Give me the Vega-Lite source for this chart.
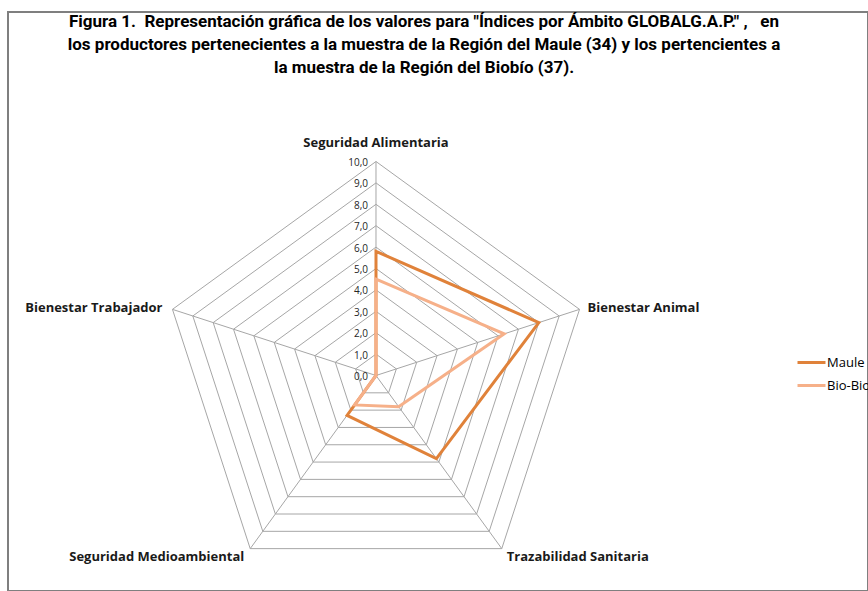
{
  "$schema": "https://vega.github.io/schema/vega-lite/v6.json",
  "width": 860,
  "height": 579,
  "autosize": "none",
  "padding": {"left": 8, "top": 12, "right": 0, "bottom": 0},
  "background": "white",
  "config": {
    "view": {"stroke": "#7f7f7f", "strokeWidth": 2},
    "font": "Open Sans"
  },
  "title": {
    "text": [
      "Figura 1.\u00a0 Representación gráfica de los valores para \"Índices por Ámbito GLOBALG.A.P.\" ,\u00a0\u00a0 en",
      "los productores pertenecientes a la muestra de la Región del Maule (34) y los pertencientes a",
      "la muestra de la Región del Biobío (37)."
    ],
    "anchor": "middle",
    "frame": "group",
    "font": "Roboto",
    "fontSize": 17,
    "fontWeight": "bold",
    "color": "#000000",
    "lineHeight": 23,
    "baseline": "top",
    "offset": 0,
    "dx": -14,
    "dy": 64.5
  },
  "datasets": {
    "scores": [
      {"series": "Maule", "axis": "Seguridad Alimentaria", "value": 5.8},
      {"series": "Maule", "axis": "Bienestar Animal", "value": 8.0},
      {"series": "Maule", "axis": "Trazabilidad Sanitaria", "value": 4.8},
      {"series": "Maule", "axis": "Seguridad Medioambiental", "value": 2.3},
      {"series": "Maule", "axis": "Bienestar Trabajador", "value": 0.0},
      {"series": "Bio-Bio", "axis": "Seguridad Alimentaria", "value": 4.5},
      {"series": "Bio-Bio", "axis": "Bienestar Animal", "value": 6.3},
      {"series": "Bio-Bio", "axis": "Trazabilidad Sanitaria", "value": 1.8},
      {"series": "Bio-Bio", "axis": "Seguridad Medioambiental", "value": 1.7},
      {"series": "Bio-Bio", "axis": "Bienestar Trabajador", "value": 0.0}
    ],
    "axes": [
      {"axis": "Seguridad Alimentaria", "value": 10},
      {"axis": "Bienestar Animal", "value": 10},
      {"axis": "Trazabilidad Sanitaria", "value": 10},
      {"axis": "Seguridad Medioambiental", "value": 10},
      {"axis": "Bienestar Trabajador", "value": 10}
    ],
    "levels": [
      {"level": 0}, {"level": 1}, {"level": 2}, {"level": 3}, {"level": 4}, {"level": 5},
      {"level": 6}, {"level": 7}, {"level": 8}, {"level": 9}, {"level": 10}
    ]
  },
  "encoding": {
    "x": {"field": "x", "type": "quantitative", "scale": {"domain": [-17.196, 22.991], "nice": false, "zero": false}, "axis": null},
    "y": {"field": "y", "type": "quantitative", "scale": {"domain": [-10.07, 16.986], "nice": false, "zero": false}, "axis": null}
  },
  "layer": [
    {
      "data": {"name": "levels"},
      "transform": [
        {"filter": "datum.level >= 1"},
        {"calculate": "['Seguridad Alimentaria','Bienestar Animal','Trazabilidad Sanitaria','Seguridad Medioambiental','Bienestar Trabajador']", "as": "axis"},
        {"flatten": ["axis"]},
        {"calculate": "datum.level", "as": "value"},
        {"calculate": "indexof(['Seguridad Alimentaria','Bienestar Animal','Trazabilidad Sanitaria','Seguridad Medioambiental','Bienestar Trabajador'], datum.axis)", "as": "idx"},
        {"calculate": "PI/2 - datum.idx*2*PI/5", "as": "ang"},
        {"calculate": "datum.value*cos(datum.ang)", "as": "x"},
        {"calculate": "datum.value*sin(datum.ang)", "as": "y"}
      ],
      "mark": {"type": "line", "interpolate": "linear-closed", "color": "#a6a6a6", "strokeWidth": 1},
      "encoding": {
        "detail": {"field": "level", "type": "nominal"},
        "order": {"field": "idx", "type": "quantitative"}
      }
    },
    {
      "data": {"name": "axes"},
      "transform": [
        {"calculate": "indexof(['Seguridad Alimentaria','Bienestar Animal','Trazabilidad Sanitaria','Seguridad Medioambiental','Bienestar Trabajador'], datum.axis)", "as": "idx"},
        {"calculate": "PI/2 - datum.idx*2*PI/5", "as": "ang"},
        {"calculate": "datum.value*cos(datum.ang)", "as": "x"},
        {"calculate": "datum.value*sin(datum.ang)", "as": "y"}
      ],
      "mark": {"type": "rule", "color": "#a6a6a6", "strokeWidth": 1},
      "encoding": {
        "x2": {"datum": 0},
        "y2": {"datum": 0}
      }
    },
    {
      "data": {"name": "levels"},
      "transform": [
        {"calculate": "0", "as": "x"},
        {"calculate": "datum.level", "as": "y"},
        {"calculate": "replace(format(datum.level, '.1f'), '.', ',')", "as": "lab"}
      ],
      "mark": {"type": "text", "align": "right", "baseline": "middle", "dx": -8, "dy": 1.5, "fontSize": 10, "color": "#262626", "font": "Open Sans"},
      "encoding": {"text": {"field": "lab", "type": "nominal"}}
    },
    {
      "data": {"name": "scores"},
      "transform": [
        {"filter": "datum.series === 'Maule'"},
        {"calculate": "indexof(['Seguridad Alimentaria','Bienestar Animal','Trazabilidad Sanitaria','Seguridad Medioambiental','Bienestar Trabajador'], datum.axis)", "as": "idx"},
        {"calculate": "PI/2 - datum.idx*2*PI/5", "as": "ang"},
        {"calculate": "datum.value*cos(datum.ang)", "as": "x"},
        {"calculate": "datum.value*sin(datum.ang)", "as": "y"}
      ],
      "mark": {"type": "line", "interpolate": "linear-closed", "strokeWidth": 3},
      "encoding": {
        "color": {"field": "series", "type": "nominal", "scale": {"domain": ["Maule", "Bio-Bio"], "range": ["#e0823a", "#f6b089"]},
          "legend": {"title": null, "orient": "none", "legendX": 788, "legendY": 335, "symbolType": "stroke", "symbolSize": 784, "symbolStrokeWidth": 3, "labelFont": "Open Sans", "labelFontSize": 13, "labelColor": "#000000", "labelOffset": 0, "rowPadding": 0, "padding": 0}},
        "order": {"field": "idx", "type": "quantitative"}
      }
    },
    {
      "data": {"name": "scores"},
      "transform": [
        {"filter": "datum.series === 'Bio-Bio'"},
        {"calculate": "indexof(['Seguridad Alimentaria','Bienestar Animal','Trazabilidad Sanitaria','Seguridad Medioambiental','Bienestar Trabajador'], datum.axis)", "as": "idx"},
        {"calculate": "PI/2 - datum.idx*2*PI/5", "as": "ang"},
        {"calculate": "datum.value*cos(datum.ang)", "as": "x"},
        {"calculate": "datum.value*sin(datum.ang)", "as": "y"}
      ],
      "mark": {"type": "line", "interpolate": "linear-closed", "strokeWidth": 3},
      "encoding": {
        "color": {"field": "series", "type": "nominal"},
        "order": {"field": "idx", "type": "quantitative"}
      }
    },
    {
      "data": {"name": "axes"},
      "transform": [
        {"filter": "datum.axis === 'Seguridad Alimentaria'"},
        {"calculate": "0", "as": "x"},
        {"calculate": "datum.value", "as": "y"}
      ],
      "mark": {"type": "text", "align": "center", "baseline": "middle", "dy": -19, "fontSize": 13, "fontWeight": "bold", "color": "#1a1a1a", "font": "Open Sans"},
      "encoding": {"text": {"field": "axis", "type": "nominal"}}
    },
    {
      "data": {"name": "axes"},
      "transform": [
        {"filter": "datum.axis === 'Bienestar Animal'"},
        {"calculate": "datum.value*cos(PI/2 - 2*PI/5)", "as": "x"},
        {"calculate": "datum.value*sin(PI/2 - 2*PI/5)", "as": "y"}
      ],
      "mark": {"type": "text", "align": "left", "baseline": "middle", "dx": 8, "dy": -1, "fontSize": 13, "fontWeight": "bold", "color": "#1a1a1a", "font": "Open Sans"},
      "encoding": {"text": {"field": "axis", "type": "nominal"}}
    },
    {
      "data": {"name": "axes"},
      "transform": [
        {"filter": "datum.axis === 'Trazabilidad Sanitaria'"},
        {"calculate": "datum.value*cos(PI/2 - 4*PI/5)", "as": "x"},
        {"calculate": "datum.value*sin(PI/2 - 4*PI/5)", "as": "y"}
      ],
      "mark": {"type": "text", "align": "left", "baseline": "middle", "dx": 5, "dy": 8, "fontSize": 13, "fontWeight": "bold", "color": "#1a1a1a", "font": "Open Sans"},
      "encoding": {"text": {"field": "axis", "type": "nominal"}}
    },
    {
      "data": {"name": "axes"},
      "transform": [
        {"filter": "datum.axis === 'Seguridad Medioambiental'"},
        {"calculate": "datum.value*cos(PI/2 - 6*PI/5)", "as": "x"},
        {"calculate": "datum.value*sin(PI/2 - 6*PI/5)", "as": "y"}
      ],
      "mark": {"type": "text", "align": "right", "baseline": "middle", "dx": -6, "dy": 8, "fontSize": 13, "fontWeight": "bold", "color": "#1a1a1a", "font": "Open Sans"},
      "encoding": {"text": {"field": "axis", "type": "nominal"}}
    },
    {
      "data": {"name": "axes"},
      "transform": [
        {"filter": "datum.axis === 'Bienestar Trabajador'"},
        {"calculate": "datum.value*cos(PI/2 - 8*PI/5)", "as": "x"},
        {"calculate": "datum.value*sin(PI/2 - 8*PI/5)", "as": "y"}
      ],
      "mark": {"type": "text", "align": "right", "baseline": "middle", "dx": -10, "dy": -1, "fontSize": 13, "fontWeight": "bold", "color": "#1a1a1a", "font": "Open Sans"},
      "encoding": {"text": {"field": "axis", "type": "nominal"}}
    }
  ]
}
